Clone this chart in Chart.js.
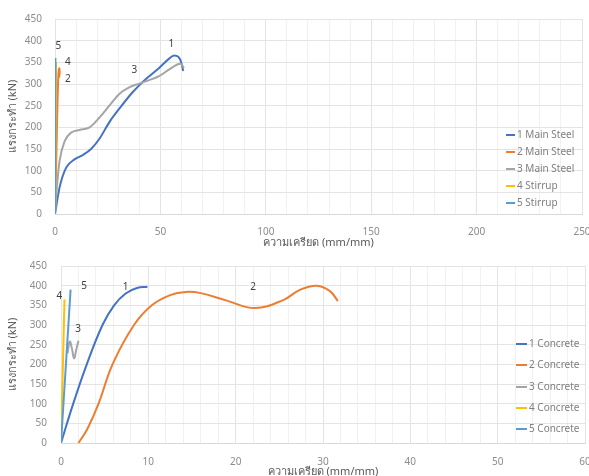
<!DOCTYPE html>
<html>
<head>
<meta charset="utf-8">
<script src="https://cdn.jsdelivr.net/npm/chart.js@4/dist/chart.umd.min.js"></script>
<style>
  html, body { margin: 0; padding: 0; background: #fff; }
  #wrap { position: relative; width: 589px; height: 476px; overflow: hidden; }
  canvas { position: absolute; left: 0; }
  #steel { top: 0; width: 620px; height: 250px; }
  #concrete { top: 246px; width: 620px; height: 232px; }
</style>
</head>
<body>
<div id="wrap">
  <canvas id="steel" width="620" height="250"></canvas>
  <canvas id="concrete" width="620" height="232"></canvas>
</div>
<script>
// ---- Steel gauges: strain (mm/mm) vs load (kN) ----
const steelNames = ['1 Main Steel', '2 Main Steel', '3 Main Steel', '4 Stirrup', '5 Stirrup'];
const steel1X = [0, 2.2, 5.3, 9.3, 13.2, 17.1, 21, 25.8, 30.5, 36.8, 43, 49.4, 54, 56.5, 58.5, 60, 60.8];
const steel1Y = [0, 62, 107, 126, 136, 150, 173, 212, 243, 281, 311, 337, 358, 366, 363, 348, 330];
const steel2X = [0, 0.4, 0.8, 1.2, 1.6, 2.0, 2.2, 1.9];
const steel2Y = [0, 80, 170, 260, 320, 336, 326, 315];
const steel3X = [0, 0.9, 2.2, 4.6, 7.7, 11.6, 16.4, 21, 25.8, 30.5, 35.2, 40, 44.7, 49.4, 54, 58, 59.6, 61.2];
const steel3Y = [0, 62, 123, 168, 188, 194, 200, 222, 250, 277, 292, 301, 309, 318, 333, 345, 347, 337];
const steel4X = [0, 0.5];
const steel4Y = [0, 350];
const steel5X = [0, 0.2];
const steel5Y = [0, 360];
const steelTagText = ['1', '2', '3', '4', '5'];
const steelTagX = [55.2, 6.1, 37.6, 6.1, 1.6];
const steelTagY = [391, 311, 333, 350, 387];

// ---- Concrete gauges ----
const concreteNames = ['1 Concrete', '2 Concrete', '3 Concrete', '4 Concrete', '5 Concrete'];
const conc1X = [0, 1.4, 2.95, 4.75, 6.08, 7.4, 8.7, 9.9];
const conc1Y = [0, 100, 200, 300, 350, 380, 394, 397];
const conc2X = [2, 3, 4.3, 5.9, 8.36, 10.4, 12.5, 14.3, 16, 19, 22.2, 25.5, 27.4, 29.3, 30.8, 31.7];
const conc2Y = [0, 35, 100, 200, 300, 350, 376, 384, 381, 362, 343, 364, 390, 400, 386, 361];
const conc3X = [0.75, 1.0, 1.25, 1.5, 1.75, 2.0];
const conc3Y = [228, 258, 240, 215, 238, 260];
const conc4X = [0, 0.4];
const conc4Y = [0, 365];
const conc5X = [0, 1.1];
const conc5Y = [0, 390];
const concTagText = ['1', '2', '3', '4', '5'];
const concTagX = [7.4, 22, 1.97, -0.2, 2.66];
const concTagY = [396, 397, 290, 374, 400];

// axis ticks
const steelXTicks = [0, 50, 100, 150, 200, 250];
const concreteXTicks = [0, 10, 20, 30, 40, 50, 60];
const loadTicks = [0, 50, 100, 150, 200, 250, 300, 350, 400, 450];

const yTitle = 'แรงกระทำ (kN)';
const xTitle = 'ความเครียด (mm/mm)';

const colors = ['#4472C4', '#ED7D31', '#A5A5A5', '#FFC000', '#5B9BD5'];
const FONT = "'Noto Sans', 'DejaVu Sans', sans-serif";

function pairs(xs, ys) { return xs.map((x, i) => ({ x: x, y: ys[i] })); }

// series listed in `monotone` get monotone smoothing; the rest use plain tension
function buildDatasets(names, series, monotone) {
  return names.map((name, i) => ({
    label: name,
    data: pairs(series[i][0], series[i][1]),
    borderColor: colors[i],
    backgroundColor: colors[i],
    borderWidth: 2,
    pointRadius: 0,
    showLine: true,
    tension: 0.4,
    cubicInterpolationMode: monotone.includes(i) ? 'monotone' : 'default',
    fill: false,
    order: names.length - i
  }));
}

// Legend drawn at the right edge over the plot, plus number tags beside curves
const decorPlugin = {
  id: 'decor',
  afterDatasetsDraw(chart, args, o) {
    const ctx = chart.ctx;
    const xs = chart.scales.x, ys = chart.scales.y;
    ctx.save();
    ctx.font = '10px ' + FONT;
    ctx.fillStyle = '#404040';
    ctx.textAlign = 'center';
    ctx.textBaseline = 'middle';
    o.tagText.forEach((t, i) => {
      ctx.fillText(t, xs.getPixelForValue(o.tagX[i]), ys.getPixelForValue(o.tagY[i]));
    });
    ctx.textAlign = 'left';
    ctx.fillStyle = '#7f7f7f';
    chart.data.datasets.forEach((ds, i) => {
      const y = o.legendY[i];
      ctx.strokeStyle = ds.borderColor;
      ctx.lineWidth = 2;
      ctx.beginPath();
      ctx.moveTo(o.legendX, y);
      ctx.lineTo(o.legendX + o.legendLen, y);
      ctx.stroke();
      ctx.fillText(ds.label, o.legendX + o.legendLen + 2, y);
    });
    ctx.restore();
  }
};

function makeChart(id, cfg) {
  const major = cfg.xTicks[1] - cfg.xTicks[0];
  return new Chart(document.getElementById(id), {
    type: 'scatter',
    data: { datasets: cfg.datasets },
    options: {
      responsive: false,
      animation: false,
      events: [],
      layout: { padding: cfg.padding },
      plugins: {
        legend: { display: false },
        tooltip: { enabled: false },
        decor: cfg.decor
      },
      scales: {
        x: {
          type: 'linear',
          min: cfg.xTicks[0],
          max: cfg.xTicks[cfg.xTicks.length - 1],
          afterBuildTicks(scale) {
            const out = [];
            for (let v = scale.min; v <= scale.max + 1e-9; v += cfg.xMinor) out.push({ value: +v.toFixed(6) });
            scale.ticks = out;
          },
          afterFit(scale) { scale.height = cfg.xAxisHeight; },
          ticks: {
            autoSkip: false,
            maxRotation: 0,
            padding: cfg.xTickPad,
            color: '#8c8c8c',
            font: { size: 10, family: FONT },
            callback: (v) => (cfg.xTicks.includes(v) ? String(v) : '')
          },
          grid: {
            drawTicks: false,
            color: (c) => (c.tick && Math.abs(c.tick.value % major) < 1e-6 ? '#e4e4e4' : '#f1f1f1'),
            lineWidth: 1
          },
          border: { display: true, color: '#d9d9d9' },
          title: {
            display: true,
            text: xTitle,
            color: '#595959',
            font: { size: 11, family: FONT },
            padding: { top: 0, bottom: cfg.xTitlePad }
          }
        },
        y: {
          type: 'linear',
          min: loadTicks[0],
          max: loadTicks[loadTicks.length - 1],
          afterBuildTicks(scale) { scale.ticks = loadTicks.map(v => ({ value: v })); },
          afterFit(scale) { scale.width = cfg.yAxisWidth; },
          ticks: {
            padding: cfg.yTickPad,
            color: '#8c8c8c',
            font: { size: 10, family: FONT }
          },
          grid: { drawTicks: false, color: '#e4e4e4', lineWidth: 1 },
          border: { display: false },
          title: {
            display: true,
            text: yTitle,
            color: '#595959',
            font: { size: 11, family: FONT },
            padding: { top: 6, bottom: 0 }
          }
        }
      }
    },
    plugins: [decorPlugin]
  });
}

makeChart('steel', {
  datasets: buildDatasets(steelNames, [
    [steel1X, steel1Y], [steel2X, steel2Y], [steel3X, steel3Y], [steel4X, steel4Y], [steel5X, steel5Y]
  ], [0, 2]),
  xTicks: steelXTicks,
  xMinor: 10,
  padding: { top: 15, right: 38, left: 0, bottom: 0 },
  xAxisHeight: 36,
  yAxisWidth: 55,
  xTickPad: 12,
  yTickPad: 13,
  xTitlePad: 1,
  decor: {
    tagText: steelTagText, tagX: steelTagX, tagY: steelTagY,
    legendX: 506, legendLen: 9, legendY: [135, 152, 169, 186, 203]
  }
});

makeChart('concrete', {
  datasets: buildDatasets(concreteNames, [
    [conc1X, conc1Y], [conc2X, conc2Y], [conc3X, conc3Y], [conc4X, conc4Y], [conc5X, conc5Y]
  ], []),
  xTicks: concreteXTicks,
  xMinor: 2,
  padding: { top: 9, right: 35, left: 0, bottom: 0 },
  xAxisHeight: 35,
  yAxisWidth: 61,
  xTickPad: 13,
  yTickPad: 14,
  xTitlePad: 0,
  decor: {
    tagText: concTagText, tagX: concTagX, tagY: concTagY,
    legendX: 516, legendLen: 11, legendY: [98, 119, 141, 162, 183]
  }
});
</script>
</body>
</html>
